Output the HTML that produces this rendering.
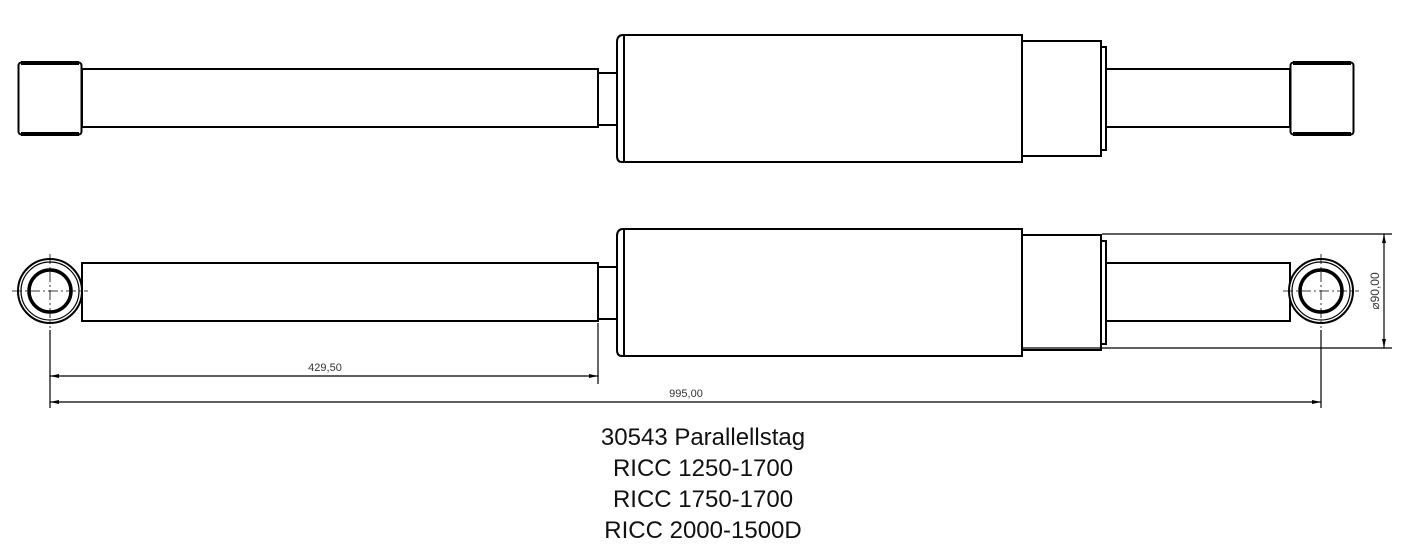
<!DOCTYPE html>
<html><head><meta charset="utf-8"><style>
html,body{margin:0;padding:0;background:#fff;}
svg{display:block;}
</style></head><body>
<svg width="1406" height="560" viewBox="0 0 1406 560" xmlns="http://www.w3.org/2000/svg" font-family="Liberation Sans, sans-serif">
<g fill="#fff" stroke="#000" stroke-width="2">
<rect x="18.5" y="62.5" width="63" height="72" rx="3"/>
<line x1="21" y1="63" x2="79" y2="63" stroke-width="4"/>
<line x1="21" y1="134" x2="79" y2="134" stroke-width="4"/>
<rect x="1290.5" y="62.5" width="63" height="72" rx="3"/>
<line x1="1293" y1="63" x2="1351" y2="63" stroke-width="4"/>
<line x1="1293" y1="134" x2="1351" y2="134" stroke-width="4"/>
<rect x="82" y="69" width="516" height="58"/>
<rect x="598" y="73" width="20" height="52"/>
<path d="M624 35 L622 35 Q617 36 617 42 L617 156 Q617 162 622 162 L624 162 Z"/>
<rect x="624" y="35" width="398" height="127"/>
<rect x="1022" y="41" width="79" height="115"/>
<rect x="1101" y="47" width="5" height="103"/>
<rect x="1106" y="69" width="184" height="58"/>
<rect x="82" y="263" width="516" height="58"/>
<rect x="598" y="267" width="20" height="52"/>
<path d="M624 229 L622 229 Q617 230 617 236 L617 350 Q617 356 622 356 L624 356 Z"/>
<rect x="624" y="229" width="398" height="127"/>
<rect x="1022" y="235" width="79" height="115"/>
<rect x="1101" y="241" width="5" height="103"/>
<rect x="1106" y="263" width="184" height="58"/>
<circle cx="50" cy="291" r="32"/>
<circle cx="50" cy="291" r="29" stroke-width="1.2"/>
<circle cx="50" cy="291" r="21" stroke-width="3.5"/>
<circle cx="1321" cy="291" r="32"/>
<circle cx="1321" cy="291" r="29" stroke-width="1.2"/>
<circle cx="1321" cy="291" r="21" stroke-width="3.5"/>
</g>
<g stroke="#000" stroke-width="0.8" stroke-dasharray="10,3,2,3" fill="none">
<line x1="12" y1="291" x2="88" y2="291"/>
<line x1="50" y1="254" x2="50" y2="328"/>
<line x1="1283" y1="291" x2="1359" y2="291"/>
<line x1="1321" y1="254" x2="1321" y2="328"/>
</g>
<g stroke="#000" stroke-width="1.2" fill="none">
<line x1="50" y1="330" x2="50" y2="408"/>
<line x1="598" y1="323" x2="598" y2="384"/>
<line x1="1321" y1="330" x2="1321" y2="408"/>
<line x1="50" y1="376" x2="598" y2="376"/>
<line x1="50" y1="402" x2="1321" y2="402"/>
<line x1="1102" y1="234" x2="1392" y2="234"/>
<line x1="1022" y1="348" x2="1392" y2="348"/>
<line x1="1384" y1="234" x2="1384" y2="348"/>
</g>
<g fill="#000">
<path d="M50 376 l9 -2 v4 z"/><path d="M598 376 l-9 -2 v4 z"/>
<path d="M50 402 l9 -2 v4 z"/><path d="M1321 402 l-9 -2 v4 z"/>
<path d="M1384 234 l-2 9 h4 z"/><path d="M1384 348 l-2 -9 h4 z"/>
</g>
<g font-size="11" fill="#333">
<text x="325" y="371" text-anchor="middle">429,50</text>
<text x="686" y="397" text-anchor="middle">995,00</text>
<text transform="translate(1379,291) rotate(-90)" text-anchor="middle" font-size="12">⌀90,00</text>
</g>
<g font-size="24" fill="#111" text-anchor="middle">
<text x="703" y="445">30543 Parallellstag</text>
<text x="703" y="476">RICC 1250-1700</text>
<text x="703" y="507">RICC 1750-1700</text>
<text x="703" y="538">RICC 2000-1500D</text>
</g>
</svg>
</body></html>
